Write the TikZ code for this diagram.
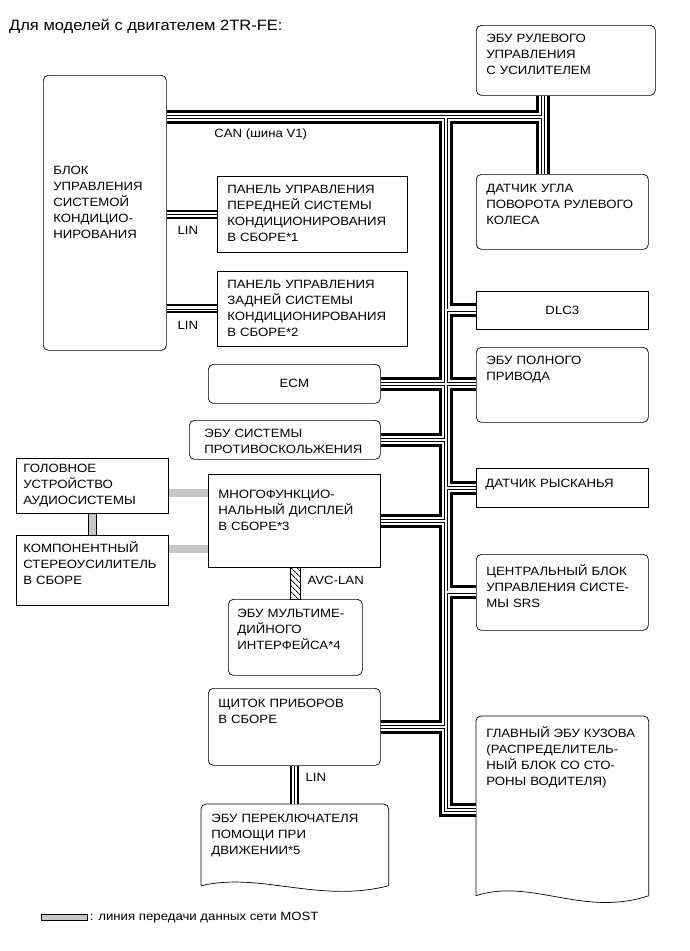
\documentclass[tikz,border=0pt]{standalone}
\usepackage{fontspec}
\setmainfont{Liberation Sans}[FakeStretch=1.1]
\usepackage{tikz}
\usetikzlibrary{positioning, patterns.meta}
\definecolor{mostgray}{RGB}{200,200,200}
\newcommand{\boxfont}{\fontsize{12pt}{16pt}\selectfont}
\newcommand{\titlefont}{\fontsize{15pt}{18pt}\selectfont}
% outline of a unit with a torn (wavy) bottom edge
\newcommand{\wavyframe}[3]{%
  \draw[frame, rounded corners=5pt] (#1.south east) -- (#1.north east)
    -- (#1.north west) -- (#1.south west);
  \draw[frame] (#1.south west) .. controls +(#2) and +(#3) .. (#1.south east);
}
\tikzset{
  frame/.style={line width=0.7pt},
  box/.style={draw, line width=0.7pt, anchor=north west, align=left,
    font=\boxfont, inner xsep=10pt, inner ysep=8pt, text height=9pt},
  ecu/.style={box, rounded corners=5pt},
  docbox/.style={box, draw=none},
  cbox/.style={draw, line width=0.7pt, anchor=north west, align=center,
    font=\boxfont, inner sep=0pt},
  lbl/.style={font=\boxfont, inner sep=1pt},
  canbus/.style={line width=14pt,
    postaction={draw=white, line width=8pt},
    postaction={draw, line width=3.4pt},
    postaction={draw=white, line width=2pt}},
  linbus/.style={line width=9pt,
    postaction={draw=white, line width=5pt},
    postaction={draw, line width=0.7pt}},
  most/.style={line width=0.6pt, double=mostgray, double distance=7.5pt},
  avclan/.style={draw, line width=0.7pt,
    pattern={Lines[angle=-45, distance=4pt, line width=1pt]}},
  mostkey/.style={draw, fill=mostgray, line width=0.6pt, anchor=north west,
    minimum width=46pt, minimum height=6pt, inner sep=0pt}
}
\begin{document}
\begin{tikzpicture}[x=1pt, y=-1pt]
  \useasboundingbox (0,0) rectangle (690,951);
  \node[anchor=base west, font=\titlefont, inner sep=0pt] (title) at (9,30)
    {Для моделей с двигателем 2TR-FE:};

  % left column
  \node[ecu, text width=103pt, text height=91pt, text depth=168pt] (ac) at (43,75)
    {БЛОК\\УПРАВЛЕНИЯ\\СИСТЕМОЙ\\КОНДИЦИО-\\НИРОВАНИЯ};
  \node[box, text width=170pt, text depth=51pt] (pfront) at (217,176)
    {ПАНЕЛЬ УПРАВЛЕНИЯ\\ПЕРЕДНЕЙ СИСТЕМЫ\\КОНДИЦИОНИРОВАНИЯ\\В СБОРЕ*1};
  \node[box, text width=170pt, text depth=50pt] (prear) at (217,271)
    {ПАНЕЛЬ УПРАВЛЕНИЯ\\ЗАДНЕЙ СИСТЕМЫ\\КОНДИЦИОНИРОВАНИЯ\\В СБОРЕ*2};
  \node[cbox, rounded corners=5pt, minimum width=172pt, minimum height=39pt] (ecm) at (208,364) {ECM};
  \node[ecu, inner xsep=15pt, text width=161pt, text depth=14pt] (abs) at (189,420)
    {ЭБУ СИСТЕМЫ\\ПРОТИВОСКОЛЬЖЕНИЯ};
  \node[box, inner xsep=7pt, inner ysep=5pt, text width=138pt, text depth=36pt] (head) at (16,458)
    {ГОЛОВНОЕ\\УСТРОЙСТВО\\АУДИОСИСТЕМЫ};
  \node[box, inner xsep=7pt, text width=138pt, text depth=45pt] (amp) at (16,535)
    {КОМПОНЕНТНЫЙ\\СТЕРЕОУСИЛИТЕЛЬ\\В СБОРЕ};
  \node[box, text width=152pt, text height=16pt, text depth=61pt] (mfd) at (208,474)
    {МНОГОФУНКЦИО-\\НАЛЬНЫЙ ДИСПЛЕЙ\\В СБОРЕ*3};
  \node[ecu, inner xsep=9pt, text width=116pt, text height=10pt, text depth=50pt] (mmi) at (228,599)
    {ЭБУ МУЛЬТИМЕ-\\ДИЙНОГО\\ИНТЕРФЕЙСА*4};
  \node[ecu, text width=152pt, text height=11pt, text depth=50pt] (meter) at (208,688)
    {ЩИТОК ПРИБОРОВ\\В СБОРЕ};
  \node[docbox, text width=167pt, text height=10pt, text depth=55pt] (dss) at (201,804)
    {ЭБУ ПЕРЕКЛЮЧАТЕЛЯ\\ПОМОЩИ ПРИ\\ДВИЖЕНИИ*5};
  \wavyframe{dss}{60,-14}{-70,18}

  % right column
  \node[ecu, text width=159pt, text depth=45pt] (eps) at (476,25)
    {ЭБУ РУЛЕВОГО\\УПРАВЛЕНИЯ\\С УСИЛИТЕЛЕМ};
  \node[ecu, text width=152pt, text height=10pt, text depth=49pt] (sas) at (476,174)
    {ДАТЧИК УГЛА\\ПОВОРОТА РУЛЕВОГО\\КОЛЕСА};
  \node[cbox, minimum width=172pt, minimum height=38pt] (dlc) at (476,291) {DLC3};
  \node[ecu, text width=152pt, text depth=50pt] (awd) at (476,347)
    {ЭБУ ПОЛНОГО\\ПРИВОДА};
  \node[box, inner xsep=9pt, text width=154pt, text height=11pt, text depth=12pt] (yaw) at (476,468)
    {ДАТЧИК РЫСКАНЬЯ};
  \node[ecu, text width=152pt, text height=13pt, text depth=47pt] (srs) at (476,554)
    {ЦЕНТРАЛЬНЫЙ БЛОК\\УПРАВЛЕНИЯ СИСТЕ-\\МЫ SRS};
  \node[docbox, text width=152pt, text height=13pt, text depth=150pt] (bcm) at (476,716)
    {ГЛАВНЫЙ ЭБУ КУЗОВА\\(РАСПРЕДЕЛИТЕЛЬ-\\НЫЙ БЛОК СО СТО-\\РОНЫ ВОДИТЕЛЯ)};
  \wavyframe{bcm}{55,-18}{-65,22}

  % CAN bus
  \coordinate (jtop) at (446,117);
  \coordinate (jeps) at (543,117);
  \coordinate (jbot) at (446,810);
  \draw[canbus]
    (jtop -| ac.east) -- (jeps)
    (jeps |- eps.south) -- (jeps |- sas.north)
    (jtop) -- (jbot) -- (jbot -| bcm.west)
    (jtop |- dlc.west) -- (dlc.west)
    (ecm.east) -- (ecm.east -| awd.west)
    (abs.east) -- (abs.east -| jtop)
    (jtop |- yaw.west) -- (yaw.west)
    (mfd.east) -- (mfd.east -| jtop)
    (jtop |- srs.west) -- (srs.west)
    (meter.east) -- (meter.east -| jtop);
  \path (jtop -| ac.east) -- node[lbl, pos=0.25, below=10.5pt] {CAN (шина V1)} (jeps);

  % LIN
  \draw[linbus] (ac.east |- pfront.west) -- (pfront.west);
  \draw[linbus] (ac.east |- prear.west) -- (prear.west);
  \draw[linbus] (meter.south) -- (meter.south |- dss.north);
  \path (ac.east |- pfront.west) -- node[lbl, pos=0.42, below=11pt] {LIN} (pfront.west);
  \path (ac.east |- prear.west) -- node[lbl, pos=0.42, below=11pt] {LIN} (prear.west);
  \path (meter.south) -- node[lbl, pos=0.31, right=10pt] {LIN} (meter.south |- dss.north);

  % MOST
  \coordinate (most1) at (188,493);
  \coordinate (most2) at (188,549);
  \draw[most] (head.east |- most1) -- (mfd.west |- most1);
  \draw[most] (amp.east |- most2) -- (mfd.west |- most2);
  \draw[most] (head.south) -- (amp.north);

  % AVC-LAN
  \draw[avclan] ([xshift=-5pt]mfd.south -| mmi.north) rectangle ([xshift=5pt]mmi.north);
  \path (mfd.south -| mmi.north) -- node[lbl, pos=0.4, right=11pt] {AVC-LAN} (mmi.north);

  % legend
  \node[mostkey] (key) at (41,914) {};
  \node[lbl, right=1pt of key] (keytext) {: линия передачи данных сети MOST};
\end{tikzpicture}
\end{document}
